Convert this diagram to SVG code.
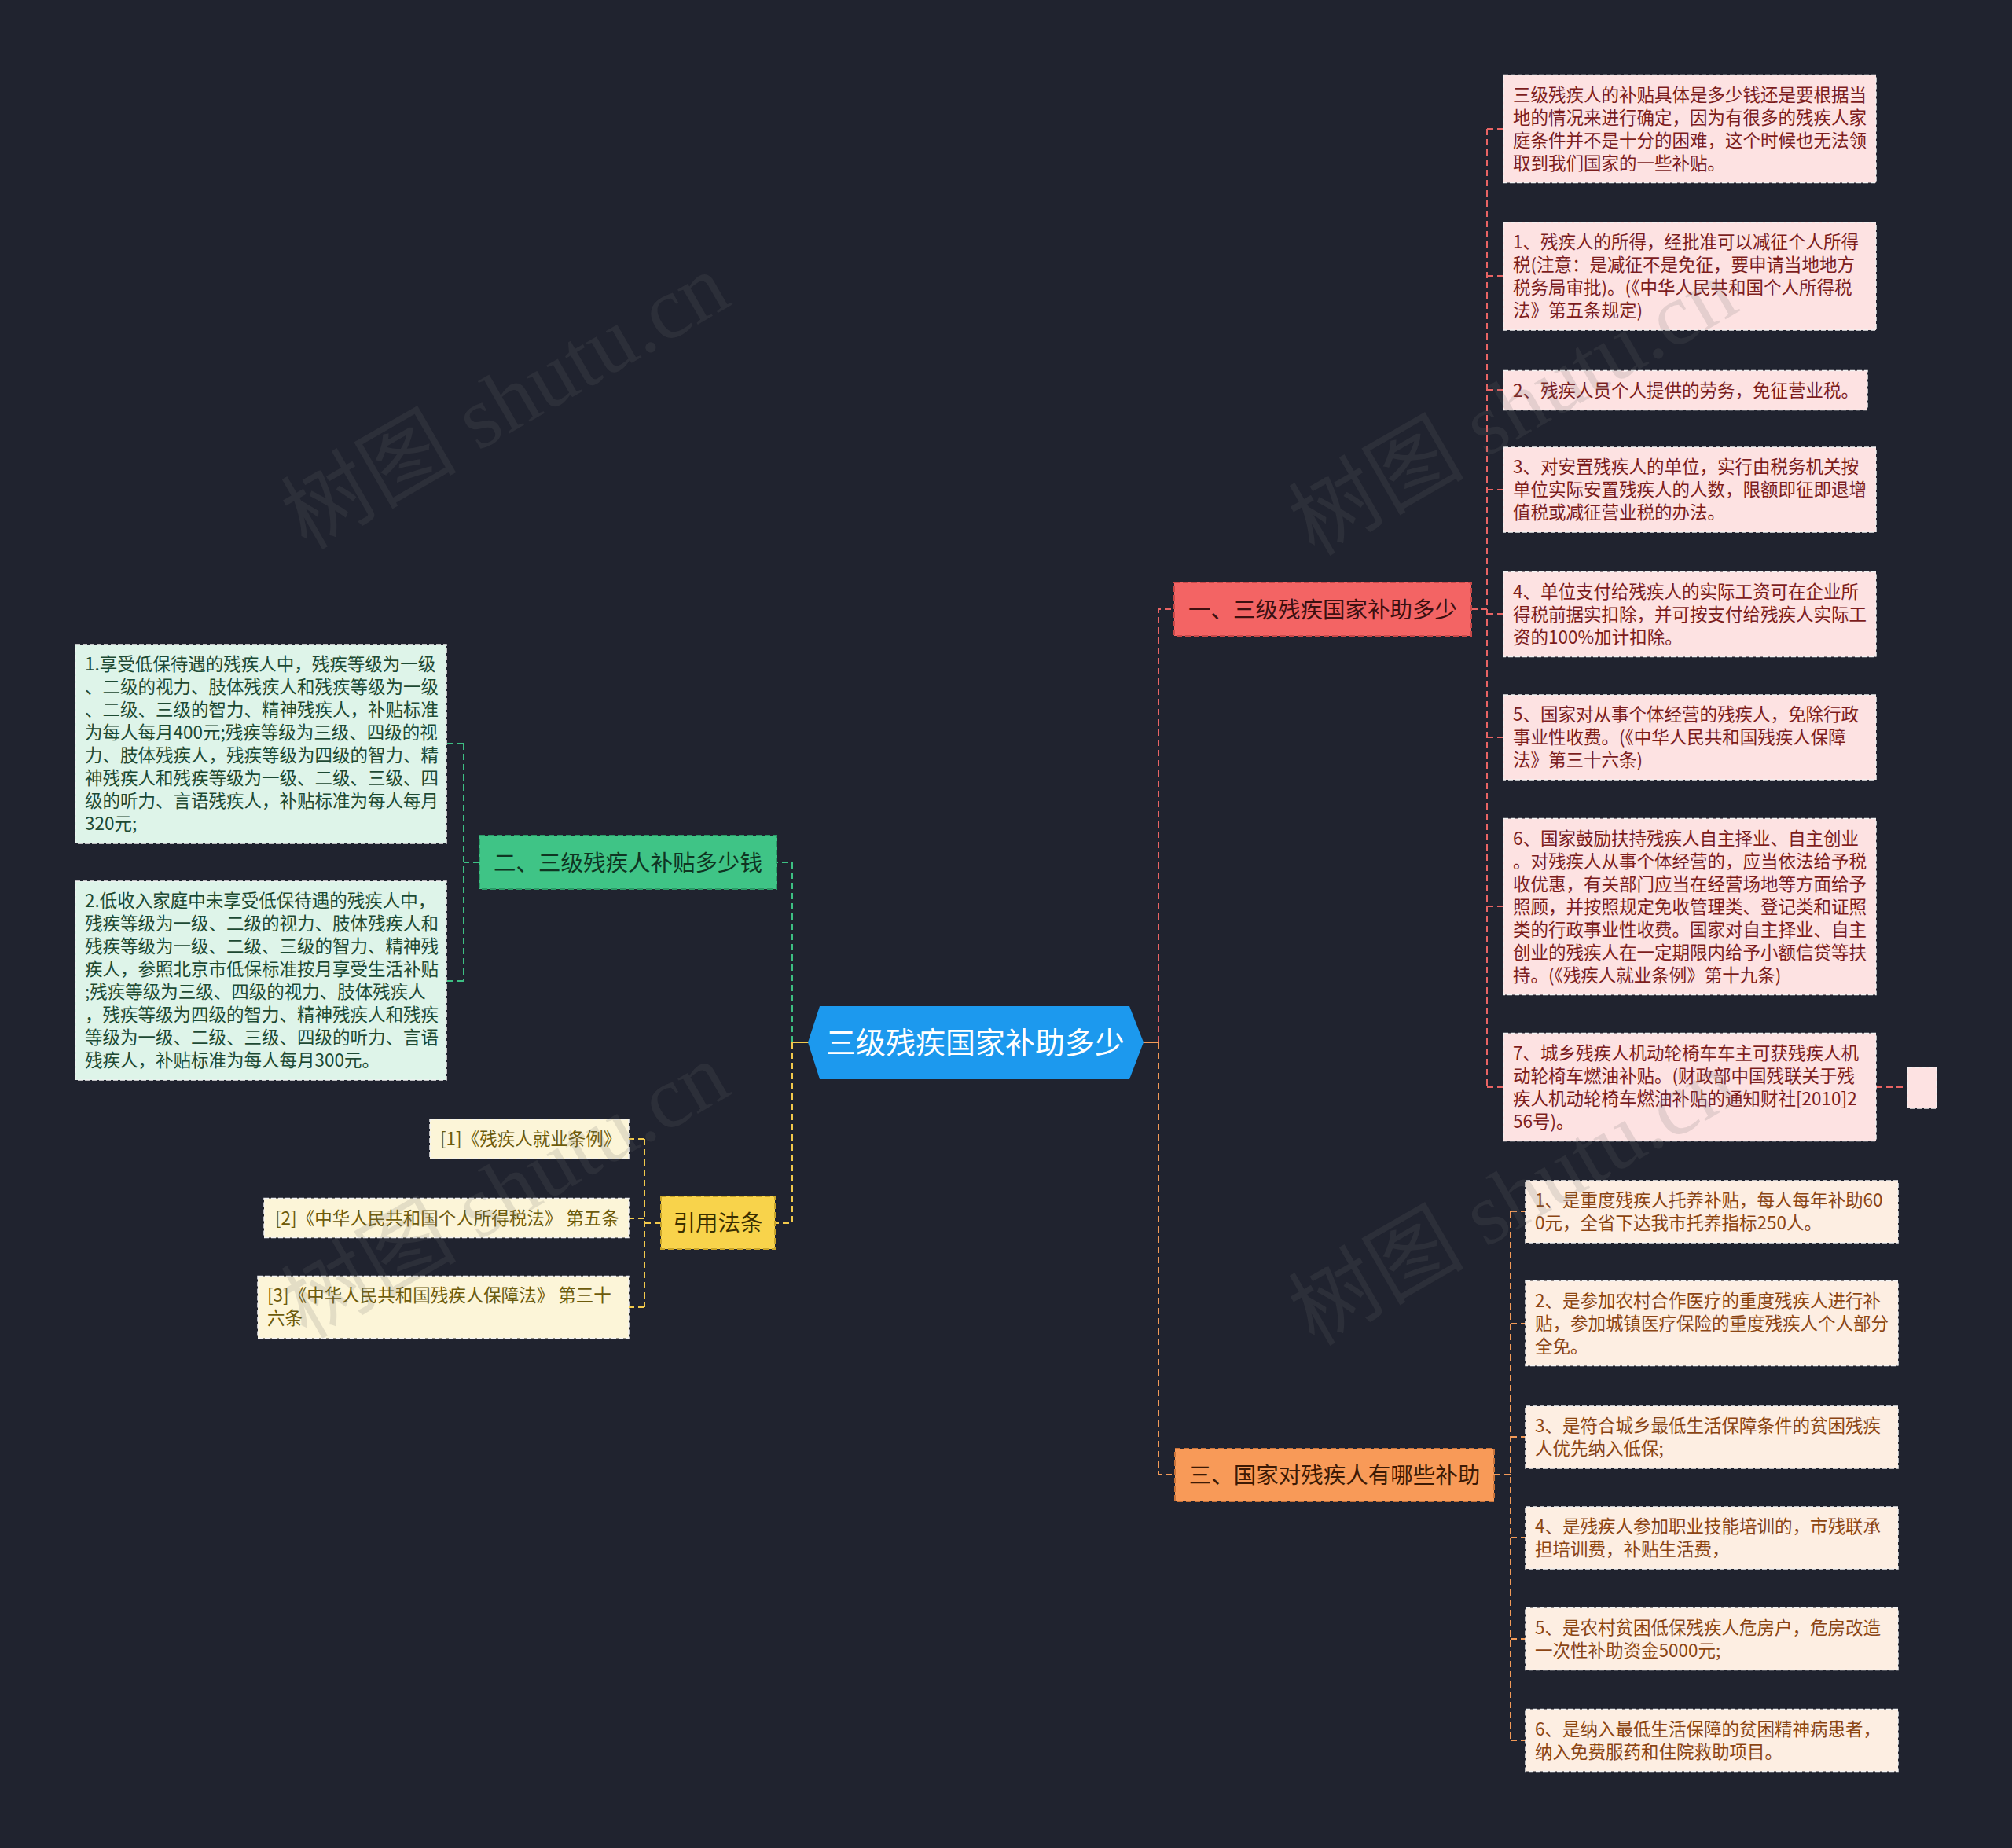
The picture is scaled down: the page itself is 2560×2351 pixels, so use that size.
<svg xmlns="http://www.w3.org/2000/svg" width="2560" height="2351" viewBox="0 0 2560 2351">
<style>
text{font-family:"Noto Sans CJK SC","Noto Sans",sans-serif}
.leaf{font-size:22.5px}
.lb{stroke:#f2f2f2;stroke-width:1.5;stroke-dasharray:6 3}
.pink rect{fill:#fde2e2}.pink text{fill:#7c1d1d}
.green rect{fill:#def4e9}.green text{fill:#1d4a33}
.peach rect{fill:#fdeee2}.peach text{fill:#8b4513}
.cream rect{fill:#fcf5d8}.cream text{fill:#6d5b0b}
.l1 text{font-size:28.5px;text-anchor:middle}
.l1 rect{stroke-width:2;stroke-dasharray:7 4}
.cn path{fill:none;stroke-width:2;stroke-dasharray:8 5}
.wm{font-family:"Liberation Serif","Noto Sans CJK SC",serif;font-size:112px;fill:#6a6a6a;fill-opacity:0.17;text-anchor:middle}
</style>
<rect width="2560" height="2351" fill="#20232f"/>

<g id="connectors" class="cn">
  <path d="M1008,1326 V1097 H988 M610,1097 H590 M590,946 V1248 M590,946 H568 M590,1248 H568" stroke="#3dbf83"/>
  <path d="M1008,1326 V1556 H986 M841,1556 H820 M820,1449 V1663 M820,1449 H800 M820,1550 H800 M820,1663 H800" stroke="#f2c94c"/>
  <path d="M1474,1326 V775 H1494 M1872,775 H1892 M1892,164 V1383 M1892,164 H1913 M1892,351 H1913 M1892,496 H1913 M1892,623 H1913 M1892,781 H1913 M1892,938 H1913 M1892,1153 H1913 M1892,1383 H1913 M2387,1383 H2427" stroke="#e86464"/>
  <path d="M1474,1326 V1876 H1495 M1901,1876 H1922 M1922,1541 V2214 M1922,1541 H1941 M1922,1684 H1941 M1922,1828 H1941 M1922,1956 H1941 M1922,2085 H1941 M1922,2214 H1941" stroke="#f29a58"/>
  <path d="M1008,1326 H1030" stroke="#f2c94c" style="stroke-dasharray:none"/>
  <path d="M1453,1326 H1474" stroke="#f29a58" style="stroke-dasharray:none"/>
</g>

<g id="root">
  <polygon points="1043,1280 1437,1280 1455,1326 1437,1373 1043,1373 1028,1326" fill="#1c99ee"/>
  <text x="1241" y="1340" font-size="38" fill="#ffffff" text-anchor="middle">三级残疾国家补助多少</text>
</g>

<g id="n1" class="l1">
  <rect x="1494" y="741" width="378" height="68" fill="#f36464" stroke="#c94848"/>
  <text x="1683" y="786" fill="#3d1010">一、三级残疾国家补助多少</text>
</g>
<g id="n2" class="l1">
  <rect x="610" y="1063" width="378" height="68" fill="#3fc486" stroke="#2b9a66"/>
  <text x="799" y="1108" fill="#0f3522">二、三级残疾人补贴多少钱</text>
</g>
<g id="n3" class="l1">
  <rect x="841" y="1522" width="145" height="67" fill="#f8d34b" stroke="#c9a52a"/>
  <text x="913.5" y="1566" fill="#3b2f00">引用法条</text>
</g>
<g id="n4" class="l1">
  <rect x="1495" y="1843" width="406" height="67" fill="#f89a58" stroke="#c9733a"/>
  <text x="1698" y="1887" fill="#3d1a05">三、国家对残疾人有哪些补助</text>
</g>

<g id="p1" class="pink leaf"><rect class="lb" x="1913" y="95.5" width="474" height="137"/>
<text x="1925" y="128.5">三级残疾人的补贴具体是多少钱还是要根据当</text><text x="1925" y="157.5">地的情况来进行确定，因为有很多的残疾人家</text><text x="1925" y="186.5">庭条件并不是十分的困难，这个时候也无法领</text><text x="1925" y="215.5">取到我们国家的一些补贴。</text></g>

<g id="p2" class="pink leaf"><rect class="lb" x="1913" y="283" width="474" height="137"/>
<text x="1925" y="316">1、残疾人的所得，经批准可以减征个人所得</text><text x="1925" y="345">税(注意：是减征不是免征，要申请当地地方</text><text x="1925" y="374">税务局审批)。(《中华人民共和国个人所得税</text><text x="1925" y="403">法》第五条规定)</text></g>

<g id="p3" class="pink leaf"><rect class="lb" x="1913" y="471.5" width="463" height="50"/>
<text x="1925" y="504.5">2、残疾人员个人提供的劳务，免征营业税。</text></g>

<g id="p4" class="pink leaf"><rect class="lb" x="1913" y="569" width="474" height="108"/>
<text x="1925" y="602">3、对安置残疾人的单位，实行由税务机关按</text><text x="1925" y="631">单位实际安置残疾人的人数，限额即征即退增</text><text x="1925" y="660">值税或减征营业税的办法。</text></g>

<g id="p5" class="pink leaf"><rect class="lb" x="1913" y="727.5" width="474" height="108"/>
<text x="1925" y="760.5">4、单位支付给残疾人的实际工资可在企业所</text><text x="1925" y="789.5">得税前据实扣除，并可按支付给残疾人实际工</text><text x="1925" y="818.5">资的100%加计扣除。</text></g>

<g id="p6" class="pink leaf"><rect class="lb" x="1913" y="884" width="474" height="108"/>
<text x="1925" y="917">5、国家对从事个体经营的残疾人，免除行政</text><text x="1925" y="946">事业性收费。(《中华人民共和国残疾人保障</text><text x="1925" y="975">法》第三十六条)</text></g>

<g id="p7" class="pink leaf"><rect class="lb" x="1913" y="1041.5" width="474" height="224"/>
<text x="1925" y="1074.5">6、国家鼓励扶持残疾人自主择业、自主创业</text><text x="1925" y="1103.5">。对残疾人从事个体经营的，应当依法给予税</text><text x="1925" y="1132.5">收优惠，有关部门应当在经营场地等方面给予</text><text x="1925" y="1161.5">照顾，并按照规定免收管理类、登记类和证照</text><text x="1925" y="1190.5">类的行政事业性收费。国家对自主择业、自主</text><text x="1925" y="1219.5">创业的残疾人在一定期限内给予小额信贷等扶</text><text x="1925" y="1248.5">持。(《残疾人就业条例》第十九条)</text></g>

<g id="p8" class="pink leaf"><rect class="lb" x="1913" y="1314.5" width="474" height="137"/>
<text x="1925" y="1347.5">7、城乡残疾人机动轮椅车车主可获残疾人机</text><text x="1925" y="1376.5">动轮椅车燃油补贴。(财政部中国残联关于残</text><text x="1925" y="1405.5">疾人机动轮椅车燃油补贴的通知财社[2010]2</text><text x="1925" y="1434.5">56号)。</text></g>

<g id="p9" class="pink leaf"><rect class="lb" x="2427" y="1358" width="37" height="52"/></g>

<g id="g1" class="green leaf"><rect class="lb" x="96" y="820" width="472" height="253"/>
<text x="108" y="852.5">1.享受低保待遇的残疾人中，残疾等级为一级</text><text x="108" y="881.5">、二级的视力、肢体残疾人和残疾等级为一级</text><text x="108" y="910.5">、二级、三级的智力、精神残疾人，补贴标准</text><text x="108" y="939.5">为每人每月400元;残疾等级为三级、四级的视</text><text x="108" y="968.5">力、肢体残疾人，残疾等级为四级的智力、精</text><text x="108" y="997.5">神残疾人和残疾等级为一级、二级、三级、四</text><text x="108" y="1026.5">级的听力、言语残疾人，补贴标准为每人每月</text><text x="108" y="1055.5">320元;</text></g>

<g id="g2" class="green leaf"><rect class="lb" x="96" y="1121" width="472" height="253"/>
<text x="108" y="1153.5">2.低收入家庭中未享受低保待遇的残疾人中，</text><text x="108" y="1182.5">残疾等级为一级、二级的视力、肢体残疾人和</text><text x="108" y="1211.5">残疾等级为一级、二级、三级的智力、精神残</text><text x="108" y="1240.5">疾人，参照北京市低保标准按月享受生活补贴</text><text x="108" y="1269.5">;残疾等级为三级、四级的视力、肢体残疾人</text><text x="108" y="1298.5">，残疾等级为四级的智力、精神残疾人和残疾</text><text x="108" y="1327.5">等级为一级、二级、三级、四级的听力、言语</text><text x="108" y="1356.5">残疾人，补贴标准为每人每月300元。</text></g>

<g id="c1" class="cream leaf"><rect class="lb" x="547" y="1424" width="253" height="50"/>
<text x="560" y="1457">[1]《残疾人就业条例》</text></g>
<g id="c2" class="cream leaf"><rect class="lb" x="336" y="1524.5" width="464" height="50"/>
<text x="350" y="1557.5">[2]《中华人民共和国个人所得税法》 第五条</text></g>
<g id="c3" class="cream leaf"><rect class="lb" x="328" y="1623.5" width="472" height="79"/>
<text x="340" y="1656">[3]《中华人民共和国残疾人保障法》 第三十</text><text x="340" y="1685">六条</text></g>

<g id="o1" class="peach leaf"><rect class="lb" x="1941" y="1502" width="474" height="79"/>
<text x="1953" y="1535">1、是重度残疾人托养补贴，每人每年补助60</text><text x="1953" y="1564">0元，全省下达我市托养指标250人。</text></g>
<g id="o2" class="peach leaf"><rect class="lb" x="1941" y="1629.5" width="474" height="108"/>
<text x="1953" y="1662.5">2、是参加农村合作医疗的重度残疾人进行补</text><text x="1953" y="1691.5">贴，参加城镇医疗保险的重度残疾人个人部分</text><text x="1953" y="1720.5">全免。</text></g>
<g id="o3" class="peach leaf"><rect class="lb" x="1941" y="1789" width="474" height="79"/>
<text x="1953" y="1822">3、是符合城乡最低生活保障条件的贫困残疾</text><text x="1953" y="1851">人优先纳入低保;</text></g>
<g id="o4" class="peach leaf"><rect class="lb" x="1941" y="1917" width="474" height="79"/>
<text x="1953" y="1950">4、是残疾人参加职业技能培训的，市残联承</text><text x="1953" y="1979">担培训费，补贴生活费，</text></g>
<g id="o5" class="peach leaf"><rect class="lb" x="1941" y="2045.5" width="474" height="79"/>
<text x="1953" y="2078.5">5、是农村贫困低保残疾人危房户，危房改造</text><text x="1953" y="2107.5">一次性补助资金5000元;</text></g>
<g id="o6" class="peach leaf"><rect class="lb" x="1941" y="2174.5" width="474" height="79"/>
<text x="1953" y="2207.5">6、是纳入最低生活保障的贫困精神病患者，</text><text x="1953" y="2236.5">纳入免费服药和住院救助项目。</text></g>

<g id="watermarks">
  <text class="wm" transform="rotate(-30 645 514)" x="645" y="548">树图 shutu.cn</text>
  <text class="wm" transform="rotate(-30 1927 522)" x="1927" y="556">树图 shutu.cn</text>
  <text class="wm" transform="rotate(-30 645 1518)" x="645" y="1552">树图 shutu.cn</text>
  <text class="wm" transform="rotate(-30 1927 1527)" x="1927" y="1561">树图 shutu.cn</text>
</g>
</svg>
